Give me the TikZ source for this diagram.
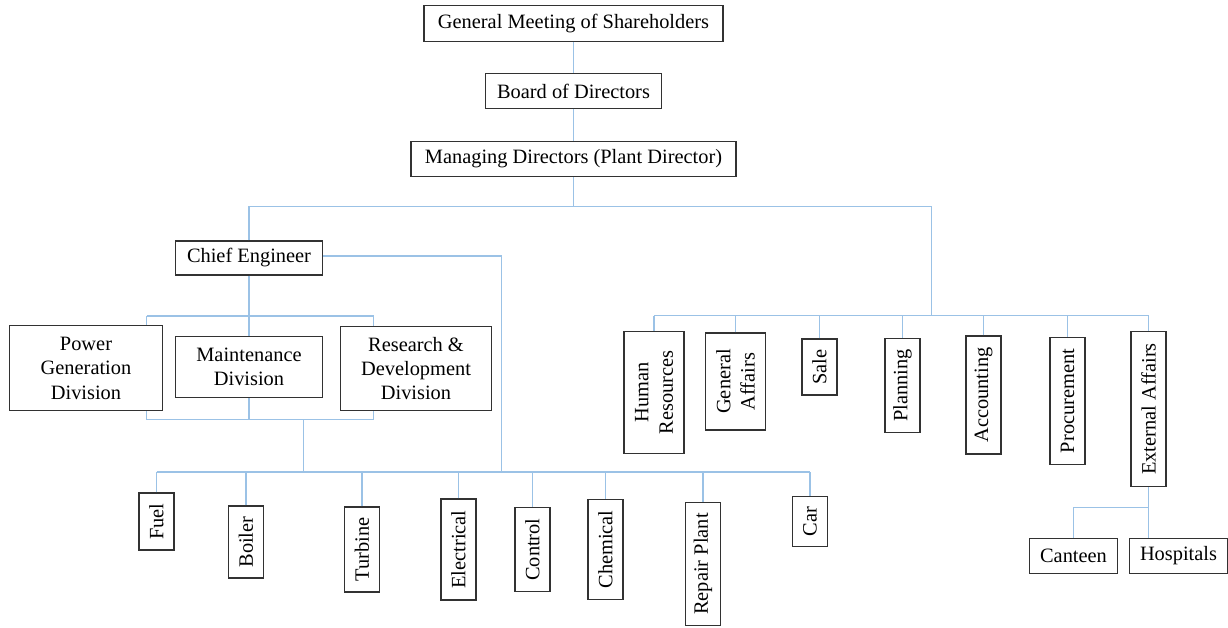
\documentclass[tikz,border=0pt]{standalone}
\usepackage{fontspec}
\setmainfont{Liberation Serif}
\definecolor{linkblue}{RGB}{155,194,230}
\definecolor{boxgray}{RGB}{50,50,50}

\begin{document}
\begin{tikzpicture}[
  box/.style={draw=boxgray, line width=0.75pt, inner sep=1pt, align=center,
    font=\fontsize{11.6}{13.9}\selectfont},
  vbox/.style={box, rotate=90, minimum height=0.7cm},
  link/.style={draw=linkblue, line width=0.6pt}]
  \useasboundingbox (0,0) rectangle (24.56,-12.56);

  % top of the chart
  \node[box, minimum width=5.98cm, minimum height=0.71cm] (gms) at (11.47,-0.47) {General Meeting of Shareholders};
  \node[box, minimum width=3.53cm, minimum height=0.69cm] (bod) at (11.47,-1.82) {Board of Directors};
  \node[box, minimum width=6.5cm, minimum height=0.7cm] (md) at (11.47,-3.18) {Managing Directors (Plant Director)};
  \node[box, minimum width=2.95cm, minimum height=0.68cm] (ce) at (4.98,-5.16) {Chief Engineer};

  % divisions
  \node[box, minimum width=3.06cm, minimum height=1.71cm] (pgd) at (1.72,-7.36) {Power\\Generation\\Division};
  \node[box, minimum width=2.95cm, minimum height=1.21cm] (mnt) at (4.98,-7.34) {Maintenance\\Division};
  \node[box, minimum width=3.01cm, minimum height=1.69cm] (rnd) at (8.32,-7.37) {Research \&\\Development\\Division};

  % workshops
  \node[vbox, minimum width=1.14cm] (fuel) at (3.13,-10.43) {Fuel};
  \node[vbox, minimum width=1.44cm] (boiler) at (4.92,-10.84) {Boiler};
  \node[vbox, minimum width=1.70cm] (turbine) at (7.24,-10.99) {Turbine};
  \node[vbox, minimum width=2.02cm] (elec) at (9.17,-10.99) {Electrical};
  \node[vbox, minimum width=1.69cm] (ctrl) at (10.65,-10.99) {Control};
  \node[vbox, minimum width=2.00cm] (chem) at (12.11,-10.99) {Chemical};
  \node[vbox, minimum width=2.47cm] (repair) at (14.06,-11.28) {Repair Plant};
  \node[vbox, minimum width=1.00cm] (car) at (16.2,-10.43) {Car};

  % departments
  \node[vbox, minimum width=2.44cm, minimum height=1.2cm] (hr) at (13.08,-7.85) {Human\\Resources};
  \node[vbox, minimum width=1.94cm, minimum height=1.2cm] (ga) at (14.71,-7.63) {General\\Affairs};
  \node[vbox, minimum width=1.12cm] (sale) at (16.39,-7.34) {Sale};
  \node[vbox, minimum width=1.89cm] (plan) at (18.05,-7.71) {Planning};
  \node[vbox, minimum width=2.36cm] (acc) at (19.67,-7.9) {Accounting};
  \node[vbox, minimum width=2.55cm] (proc) at (21.35,-8.02) {Procurement};
  \node[vbox, minimum width=3.10cm] (ext) at (22.97,-8.18) {External Affairs};
  \node[box, minimum width=1.76cm, minimum height=0.69cm] (cant) at (21.47,-11.12) {Canteen};
  \node[box, minimum width=1.97cm, minimum height=0.69cm] (hosp) at (23.57,-11.12) {Hospitals};

  \coordinate (mdbus) at (11.47,-4.13);
  \coordinate (rtop) at (18.63,-6.31);
  \coordinate (dl) at (2.93,-6.32);
  \coordinate (dr) at (7.47,-6.32);
  \coordinate (bl) at (2.93,-8.39);
  \coordinate (br) at (7.47,-8.39);
  \coordinate (drop) at (6.07,-8.39);
  \coordinate (bbus) at (6.07,-9.44);
  \coordinate (ceturn) at (10.03,-5.12);
  \coordinate (esplit) at (22.97,-10.15);

  \draw[link] (gms) -- (bod);
  \draw[link] (bod) -- (md);
  \draw[link] (md) -- (mdbus);
  \draw[link] (ce) |- (mdbus) -| (rtop);

  % chief engineer side
  \draw[link] (ce) -- (mnt);
  \draw[link] (dl) -- (dr);
  \draw[link] (dl) -- (dl |- pgd.north);
  \draw[link] (dr) -- (dr |- rnd.north);
  \draw[link] (bl) -- (br);
  \draw[link] (bl) -- (bl |- pgd.south);
  \draw[link] (br) -- (br |- rnd.south);
  \draw[link] (mnt) -- (mnt |- bl);
  \draw[link] (drop) -- (bbus);
  \draw[link] (ce.east |- ceturn) -- (ceturn) -- (ceturn |- bbus);
  \draw[link] (fuel |- bbus) -- (car |- bbus);
  \foreach \n in {fuel,boiler,turbine,elec,ctrl,chem,repair,car}
    \draw[link] (\n) -- (\n |- bbus);

  % plant director side
  \draw[link] (hr |- rtop) -- (ext |- rtop);
  \foreach \n in {hr,ga,sale,plan,acc,proc,ext}
    \draw[link] (\n) -- (\n |- rtop);
  \draw[link] (ext) -- (ext |- hosp.north);
  \draw[link] (esplit) -| (cant);
\end{tikzpicture}
\end{document}
